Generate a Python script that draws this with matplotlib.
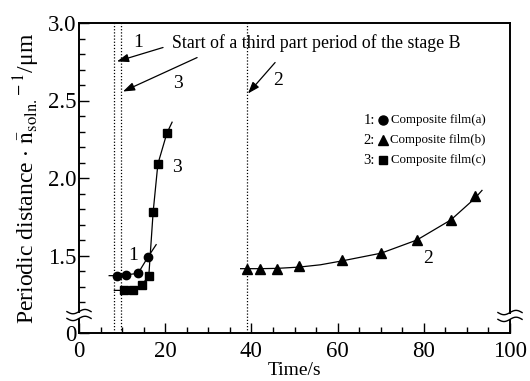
import numpy as np
import matplotlib
matplotlib.use("Agg")
import matplotlib.pyplot as plt
from matplotlib.patches import Rectangle

plt.rcParams['font.family'] = ['Liberation Serif', 'DejaVu Serif']
plt.rcParams['mathtext.fontset'] = 'stix'

# ---- data ----
t_a = [8.8, 10.9, 13.7, 16.0]
v_a = [1.37, 1.375, 1.385, 1.49]
curve_a_t = [7.0, 8.8, 10.9, 13.7, 16.0, 17.9]
curve_a_v = [1.37, 1.37, 1.375, 1.385, 1.49, 1.57]

t_b = [39.0, 42.0, 45.9, 51.0, 61.0, 70.1, 78.4, 86.3, 91.9]
v_b = [1.415, 1.415, 1.414, 1.43, 1.468, 1.515, 1.603, 1.73, 1.883]
curve_b_t = [37.5, 39, 42, 46, 51, 56, 61, 70.1, 78.4, 86.3, 91.9, 93.5]
curve_b_v = [1.415, 1.415, 1.415, 1.417, 1.425, 1.44, 1.465, 1.515, 1.6, 1.73, 1.87, 1.92]

t_c = [10.4, 12.5, 14.6, 16.2, 17.2, 18.3, 20.4]
v_c = [1.275, 1.275, 1.31, 1.37, 1.78, 2.09, 2.29]
curve_c_t = [8.2, 10.4, 12.5, 14.6, 16.2, 17.2, 18.3, 20.4, 21.6]
curve_c_v = [1.275, 1.275, 1.275, 1.31, 1.37, 1.78, 2.09, 2.29, 2.36]

vlines_t = [8.1, 9.7, 39.0]

x_ticks = [0, 20, 40, 60, 80, 100]
y_ticks = [1.0, 1.5, 2.0, 2.5, 3.0]
y_ticklabels = ['0', '1.5', '2.0', '2.5', '3.0']

legend_nums = ['1:', '2:', '3:']
legend_names = ['Composite film(a)', 'Composite film(b)', 'Composite film(c)']
legend_markers = ['o', '^', 's']

fig = plt.figure(figsize=(5.30, 3.81), dpi=100)
ax = fig.add_axes([79/530, 1-333/381, (510-79)/530, (333-23)/381])
ax.set_xlim(0, 100)
ax.set_ylim(1.0, 3.0)

for t in vlines_t:
    ax.axvline(t, color='black', lw=0.9, ls=(0, (1.0, 1.5)), zorder=1)

ax.plot(curve_a_t, curve_a_v, color='black', lw=0.9, zorder=2)
ax.plot(curve_b_t, curve_b_v, color='black', lw=0.9, zorder=2)
ax.plot(curve_c_t, curve_c_v, color='black', lw=0.9, zorder=2)
ax.plot(t_a, v_a, 'o', color='black', ms=6, zorder=3)
ax.plot(t_b, v_b, '^', color='black', ms=6.5, zorder=3)
ax.plot(t_c, v_c, 's', color='black', ms=6, zorder=3)

# ticks
ax.set_xticks(x_ticks)
ax.set_xticks(np.arange(5, 100, 5), minor=True)
ax.set_yticks(y_ticks)
ax.set_yticklabels(y_ticklabels)
ax.set_yticks([1.2, 1.3, 1.4, 1.6, 1.7, 1.8, 1.9, 2.1, 2.2, 2.3, 2.4, 2.6, 2.7, 2.8, 2.9], minor=True)
ax.tick_params(axis='both', which='major', direction='in', length=7, width=1.0, labelsize=16.5)
ax.tick_params(axis='both', which='minor', direction='in', length=4, width=1.0)
ax.tick_params(axis='y', which='major', pad=2)
ax.tick_params(axis='x', which='major', pad=6)
for s in ax.spines.values():
    s.set_linewidth(1.4)

ax.set_xlabel('Time/s', fontsize=14, labelpad=0)
ax.set_ylabel(r'Periodic distance $\cdot$ $\bar{\mathrm{n}}_{\mathrm{soln.}}{}^{\!-1}$/μm',
              fontsize=17, labelpad=4)

# axis breaks
for xa, yb in [(0.0, 0.055), (1.0, 0.052)]:
    ax.add_patch(Rectangle((xa - 0.02, yb - 0.006), 0.04, 0.014, transform=ax.transAxes,
                           facecolor='white', edgecolor='none', clip_on=False, zorder=5))
    xs = np.linspace(-0.028, 0.028, 30)
    for dy in (-0.008, 0.014):
        ys = yb + dy + 0.007 * np.sin(xs / 0.028 * np.pi)
        ax.plot(xa + xs, ys, color='black', lw=1.0, transform=ax.transAxes,
                clip_on=False, zorder=6)

# annotations
arrow = dict(arrowstyle='-|>,head_length=0.7,head_width=0.25', color='black', lw=0.9,
             shrinkA=0, shrinkB=0)
ax.annotate('', xy=(8.8, 2.752), xytext=(19.5, 2.842), arrowprops=arrow)
ax.annotate('', xy=(10.2, 2.558), xytext=(27.4, 2.777), arrowprops=arrow)
ax.annotate('', xy=(39.2, 2.545), xytext=(45.5, 2.745), arrowprops=arrow)
ax.text(13.7, 2.874, '1', fontsize=14, ha='center', va='center')
ax.text(23.0, 2.61, '3', fontsize=14, ha='center', va='center')
ax.text(46.3, 2.63, '2', fontsize=14, ha='center', va='center')
ax.text(21.6, 2.868, 'Start of a third part period of the stage B', fontsize=12.8,
        ha='left', va='center')

ax.text(22.7, 2.07, '3', fontsize=14, ha='center', va='center')
ax.text(12.6, 1.50, '1', fontsize=14, ha='center', va='center')
ax.text(81.0, 1.48, '2', fontsize=14, ha='center', va='center')

# legend drawn as text rows with markers
for i, (num, name, mk) in enumerate(zip(legend_nums, legend_names, legend_markers)):
    yv = 2.372 - i * 0.129
    ax.text(68.6, yv, num, fontsize=10.5, ha='right', va='center')
    ax.plot([70.5], [yv], mk, color='black', ms=6.5 if mk != 's' else 6)
    ax.text(94.4, yv, name, fontsize=9.3, ha='right', va='center')

fig.savefig('out.png', dpi=100)
